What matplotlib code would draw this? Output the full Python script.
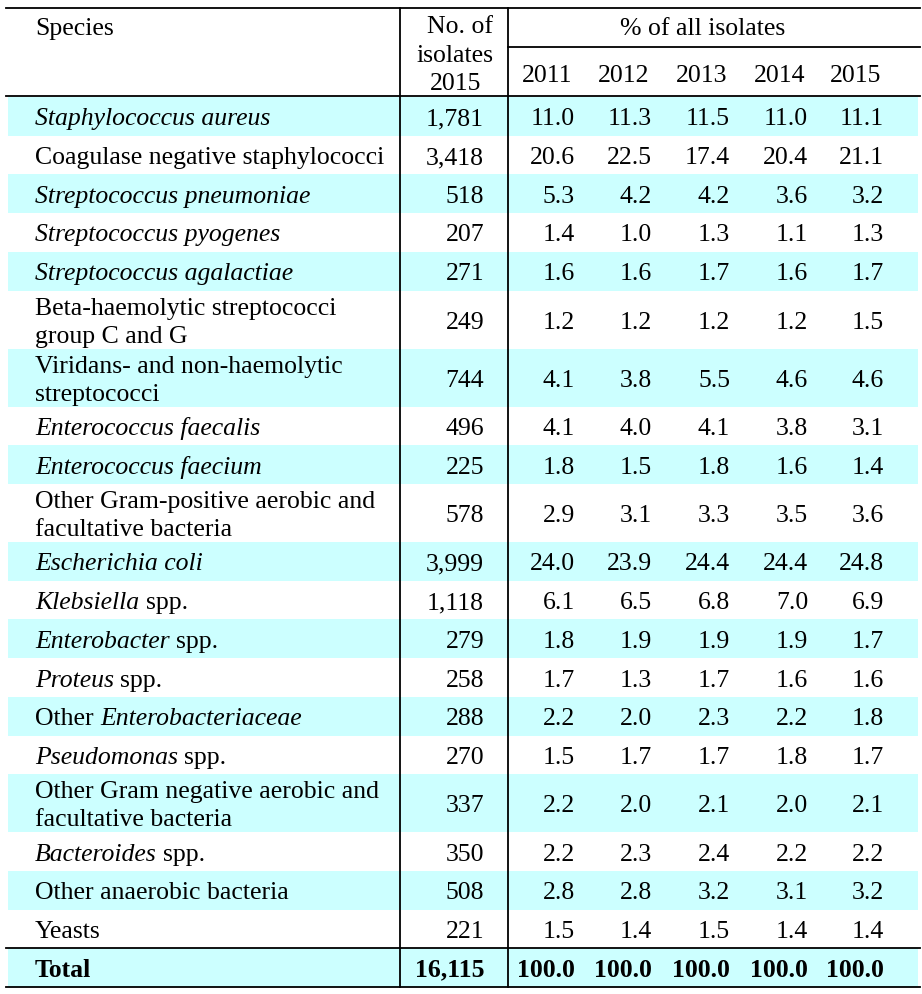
import matplotlib.pyplot as plt

# table content ("*...*" marks italic parts)
species = [
    "*Staphylococcus aureus*",
    "Coagulase negative staphylococci",
    "*Streptococcus pneumoniae*",
    "*Streptococcus pyogenes*",
    "*Streptococcus agalactiae*",
    "Beta-haemolytic streptococci\ngroup C and G",
    "Viridans- and non-haemolytic\nstreptococci",
    "*Enterococcus faecalis*",
    "*Enterococcus faecium*",
    "Other Gram-positive aerobic and\nfacultative bacteria",
    "*Escherichia coli*",
    "*Klebsiella* spp.",
    "*Enterobacter* spp.",
    "*Proteus* spp.",
    "Other *Enterobacteriaceae*",
    "*Pseudomonas* spp.",
    "Other Gram negative aerobic and\nfacultative bacteria",
    "*Bacteroides* spp.",
    "Other anaerobic bacteria",
    "Yeasts",
]
n_isolates = ["1,781", "3,418", "518", "207", "271", "249", "744", "496", "225", "578",
              "3,999", "1,118", "279", "258", "288", "270", "337", "350", "508", "221"]
years = ["2011", "2012", "2013", "2014", "2015"]
pct = [
    [11.0, 11.3, 11.5, 11.0, 11.1],
    [20.6, 22.5, 17.4, 20.4, 21.1],
    [5.3, 4.2, 4.2, 3.6, 3.2],
    [1.4, 1.0, 1.3, 1.1, 1.3],
    [1.6, 1.6, 1.7, 1.6, 1.7],
    [1.2, 1.2, 1.2, 1.2, 1.5],
    [4.1, 3.8, 5.5, 4.6, 4.6],
    [4.1, 4.0, 4.1, 3.8, 3.1],
    [1.8, 1.5, 1.8, 1.6, 1.4],
    [2.9, 3.1, 3.3, 3.5, 3.6],
    [24.0, 23.9, 24.4, 24.4, 24.8],
    [6.1, 6.5, 6.8, 7.0, 6.9],
    [1.8, 1.9, 1.9, 1.9, 1.7],
    [1.7, 1.3, 1.7, 1.6, 1.6],
    [2.2, 2.0, 2.3, 2.2, 1.8],
    [1.5, 1.7, 1.7, 1.8, 1.7],
    [2.2, 2.0, 2.1, 2.0, 2.1],
    [2.2, 2.3, 2.4, 2.2, 2.2],
    [2.8, 2.8, 3.2, 3.1, 3.2],
    [1.5, 1.4, 1.5, 1.4, 1.4],
]
total_n = "16,115"
total_pct = [100.0, 100.0, 100.0, 100.0, 100.0]

plt.rcParams['font.family'] = 'Liberation Serif'
FS = 18.5
shade = '#CCFFFF'

fig = plt.figure(figsize=(9.22, 9.94), dpi=100)
ax = fig.add_axes([0, 0, 1, 1])
ax.set_xlim(0, 922)
ax.set_ylim(994, 0)
ax.axis('off')

x_species = 35
x_n = 484
x_pct = [575, 652, 730, 808, 884]
single_h = 38.7
line_gap = 28
base_off = 9


def draw_label(x, y, label, weight='normal'):
    parts = label.split('*')
    prev = None
    for k, p in enumerate(parts):
        if p == '':
            continue
        style = 'italic' if k % 2 == 1 else 'normal'
        if prev is None:
            prev = ax.text(x, y, p.strip(), fontsize=FS, style=style,
                           weight=weight, va='baseline', ha='left')
        else:
            gap = 0.25 * FS if p.startswith(' ') or parts[k - 1].endswith(' ') else 0
            prev = ax.annotate(p.strip(), xy=(1, y), xycoords=(prev, 'data'),
                               xytext=(gap, 0), textcoords='offset points',
                               fontsize=FS, style=style, weight=weight,
                               va='baseline', ha='left')


# body rows
y = 97
for i, sp in enumerate(species):
    nlines = sp.count('\n') + 1
    h = single_h * (1.5 if nlines > 1 else 1)
    if i % 2 == 0:
        ax.fill_between([8, 918], y, y + h, color=shade, lw=0, zorder=0)
    c = y + h / 2
    for j, line in enumerate(sp.split('\n')):
        draw_label(x_species, c + base_off + (j - (nlines - 1) / 2) * line_gap, line)
    ax.text(x_n, c + base_off, n_isolates[i], fontsize=FS, ha='right', va='baseline')
    for xp, v in zip(x_pct, pct[i]):
        ax.text(xp, c + base_off, f"{v:.1f}", fontsize=FS, ha='right', va='baseline')
    y += h

# total row
ax.fill_between([8, 918], y, y + single_h, color=shade, lw=0, zorder=0)
c = y + single_h / 2
ax.text(x_species, c + base_off, "Total", fontsize=FS, weight='bold', va='baseline')
ax.text(x_n, c + base_off, total_n, fontsize=FS, weight='bold', ha='right', va='baseline')
for xp, v in zip(x_pct, total_pct):
    ax.text(xp, c + base_off, f"{v:.1f}", fontsize=FS, weight='bold',
            ha='right', va='baseline')
y_tot = y
y_end = y + single_h

# header
ax.text(x_species, 35, "Species", fontsize=FS, va='baseline')
ax.text(493, 33, "No. of", fontsize=FS, ha='right', va='baseline')
ax.text(493, 62, "isolates", fontsize=FS, ha='right', va='baseline')
ax.text(481, 90, "2015", fontsize=FS, ha='right', va='baseline')
ax.text(703, 35, "% of all isolates", fontsize=FS, ha='center', va='baseline')
for xp, yr in zip(x_pct, years):
    ax.text(xp - 3, 82, yr, fontsize=FS, ha='right', va='baseline')

# rules
lw = 1.3
for yy in [8, 96, y_tot, y_end]:
    ax.plot([6, 920], [yy, yy], color='black', lw=lw)
ax.plot([508, 920], [47, 47], color='black', lw=lw)
for xx in [400, 508]:
    ax.plot([xx, xx], [8, y_end], color='black', lw=lw)

fig.savefig('out.png', dpi=100)
